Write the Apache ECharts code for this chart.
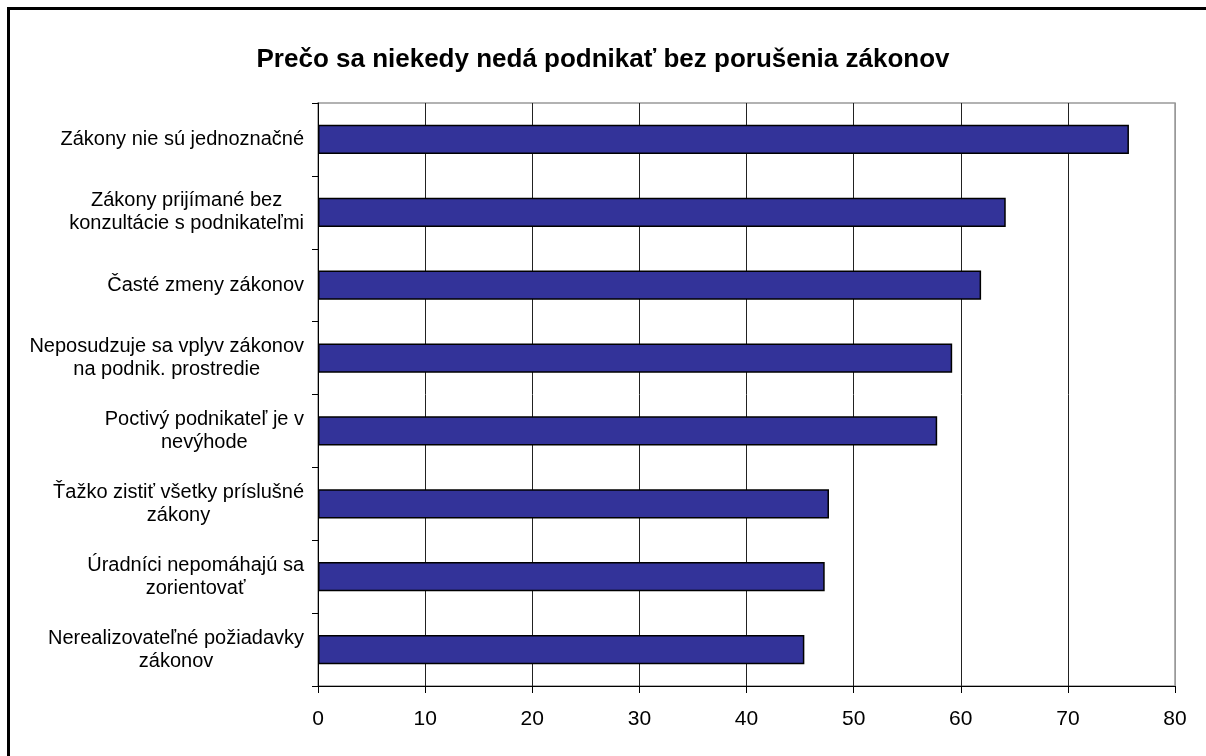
<!DOCTYPE html>
<html>
<head>
<meta charset="utf-8">
<script src="https://cdn.jsdelivr.net/npm/echarts@6/dist/echarts.min.js"></script>
<style>
    html, body { margin: 0; padding: 0; background: #fff; }
    #chart { width: 1206px; height: 756px; }
</style>
</head>
<body>
<div id="chart"></div>
<script>
// dáta z grafu (zhora nadol)
const chartTitle = 'Prečo sa niekedy nedá podnikať bez porušenia zákonov';
const categories = [
    'Zákony nie sú jednoznačné',
    'Zákony prijímané bez\nkonzultácie s podnikateľmi',
    'Časté zmeny zákonov',
    'Neposudzuje sa vplyv zákonov\nna podnik. prostredie',
    'Poctivý podnikateľ je v\nnevýhode',
    'Ťažko zistiť všetky príslušné\nzákony',
    'Úradníci nepomáhajú sa\nzorientovať',
    'Nerealizovateľné požiadavky\nzákonov'
];
const values = [75.7, 64.2, 61.9, 59.2, 57.8, 47.7, 47.3, 45.4];
const xMin = 0;
const xMax = 80;
const xStep = 10;

const chartDom = document.getElementById('chart');
const myChart = echarts.init(chartDom);

// farby mriežky - posledná čiara (80) je okraj plochy, sivá
const gridColors = [];
for (let v = xMin; v <= xMax; v += xStep) {
    gridColors.push(v === xMax ? '#999' : '#222');
}

const option = {
    animation: false,
    textStyle: { fontFamily: 'Arial, "Liberation Sans", sans-serif' },
    title: {
        text: chartTitle,
        left: 'center',
        top: 42,
        textStyle: { fontSize: 26, fontWeight: 'bold', color: '#000' }
    },
    graphic: [{
        type: 'rect',
        shape: { x: 8.5, y: 8.5, width: 1300, height: 900 },
        style: { fill: null, stroke: '#000', lineWidth: 3 },
        silent: true
    }],
    grid: {
        left: 318,
        right: 31,
        top: 103,
        bottom: 70,
        show: true,
        borderColor: '#999',
        borderWidth: 1.5,
        backgroundColor: '#fff'
    },
    xAxis: {
        type: 'value',
        min: xMin,
        max: xMax,
        interval: xStep,
        axisLine: { show: true, lineStyle: { color: '#000', width: 1 } },
        axisTick: { show: true, length: 7, lineStyle: { color: '#000' } },
        axisLabel: { fontSize: 21, color: '#000', margin: 23 },
        splitLine: { show: true, lineStyle: { color: gridColors, width: 1 } }
    },
    yAxis: {
        type: 'category',
        data: categories,
        inverse: true,
        axisLine: { show: true, lineStyle: { color: '#000', width: 1 } },
        axisTick: { show: true, length: 6, interval: 0, lineStyle: { color: '#000' } },
        axisLabel: {
            interval: 0,
            margin: 14,
            formatter: (v) => '{a|' + v + '}',
            rich: {
                a: { fontSize: 20, lineHeight: 23, color: '#000', align: 'center' }
            }
        },
        splitLine: { show: false }
    },
    series: [{
        type: 'bar',
        data: values,
        barCategoryGap: '60%',
        itemStyle: { color: '#333399', borderColor: '#000', borderWidth: 1.5 }
    }]
};

option && myChart.setOption(option);
</script>
</body>
</html>
